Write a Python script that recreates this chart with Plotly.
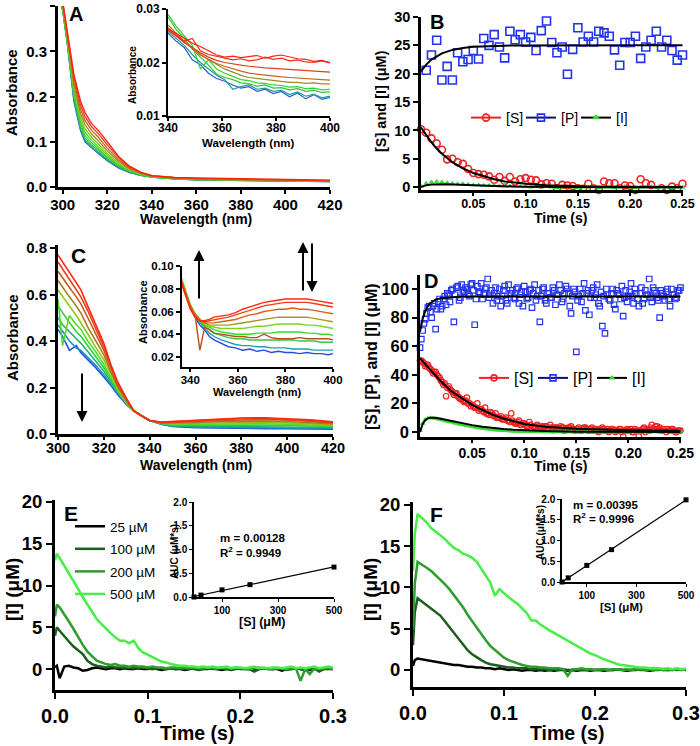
import numpy as np
import plotly.graph_objects as go

W, H = 700, 746
FONT = "Liberation Sans"

# ---------------- Panel A : spectra ----------------
A_wl = [296, 298, 300, 302, 305, 308, 310, 313, 316, 320, 325, 330, 335, 340, 350, 360, 380, 400, 420]
A_curves = [
    [.48, .44, .39, .32, .19, .125, .100, .086, .074, .058, .042, .032, .026, .022, .018, .016, .014, .013, .012],
    [.48, .44, .39, .32, .195, .128, .103, .088, .076, .060, .044, .033, .026, .022, .018, .016, .014, .013, .012],
    [.48, .44, .39, .322, .20, .133, .108, .092, .080, .063, .046, .034, .027, .022, .018, .016, .015, .014, .012],
    [.48, .44, .392, .325, .205, .14, .114, .097, .084, .066, .048, .035, .027, .022, .018, .017, .015, .014, .013],
    [.48, .44, .395, .328, .21, .147, .121, .103, .089, .070, .050, .036, .028, .023, .019, .017, .015, .014, .013],
    [.48, .445, .40, .332, .218, .155, .129, .110, .095, .074, .053, .038, .029, .023, .019, .017, .016, .015, .013],
    [.48, .445, .40, .336, .226, .163, .138, .117, .102, .080, .057, .040, .030, .024, .020, .018, .016, .015, .013],
    [.48, .45, .405, .34, .235, .172, .147, .125, .110, .086, .061, .042, .031, .024, .020, .018, .017, .016, .014],
    [.48, .45, .41, .345, .243, .181, .156, .133, .118, .093, .065, .044, .032, .025, .021, .019, .018, .016, .014],
    [.48, .45, .41, .35, .25, .19, .165, .14, .125, .10, .068, .046, .033, .025, .021, .020, .019, .017, .015],
]
A_colors = ['#2a5bd7', '#1e9ea0', '#35c43a', '#2fd62f', '#4fd81e', '#8cc21c', '#a08a28', '#c4661e', '#e8401a', '#ff2010']

Ai_wl = [340, 343, 346, 349, 352, 355, 358, 361, 364, 367, 370, 373, 376, 379, 382, 385, 388, 391, 394, 397, 400]
Ai_curves = [
    [.0255, .0240, .0228, .0205, .0196, .0180, .0170, .0165, .0158, .0152, .0155, .0146, .0150, .0142, .0146, .0136, .0143, .0132, .0140, .0131, .0135],
    [.0258, .0245, .0232, .0215, .0200, .0188, .0176, .0168, .0150, .0155, .0158, .0150, .0152, .0146, .0148, .0140, .0145, .0137, .0141, .0134, .0137],
    [.0285, .0262, .0245, .0225, .0210, .0195, .0178, .0172, .0168, .0162, .0160, .0156, .0158, .0152, .0153, .0149, .0151, .0146, .0148, .0144, .0145],
    [.0290, .0268, .0250, .0232, .0188, .0205, .0188, .0180, .0174, .0168, .0166, .0162, .0161, .0158, .0157, .0154, .0155, .0151, .0152, .0149, .0150],
    [.0270, .0255, .0240, .0228, .0215, .0205, .0196, .0188, .0182, .0176, .0172, .0170, .0168, .0166, .0165, .0163, .0163, .0161, .0162, .0160, .0160],
    [.0265, .0252, .0238, .0226, .0214, .0206, .0198, .0193, .0188, .0184, .0180, .0178, .0176, .0175, .0173, .0172, .0171, .0170, .0169, .0168, .0167],
    [.0262, .0250, .0237, .0228, .0218, .0210, .0204, .0200, .0197, .0195, .0193, .0191, .0190, .0189, .0188, .0187, .0186, .0185, .0184, .0183, .0182],
    [.0260, .0250, .0240, .0245, .0222, .0215, .0212, .0208, .0205, .0207, .0203, .0205, .0210, .0206, .0208, .0203, .0205, .0201, .0200, .0203, .0199],
    [.0263, .0255, .0246, .0236, .0230, .0222, .0214, .0210, .0212, .0209, .0211, .0213, .0208, .0212, .0214, .0210, .0207, .0206, .0202, .0204, .0200],
]
Ai_colors = ['#2a5bd7', '#1e9ea0', '#35c43a', '#2fd62f', '#a08a28', '#c4661e', '#e0401c', '#f02a14', '#ff2010']

# ---------------- Panel B : kinetics ----------------
B_t_P = np.linspace(0.005, 0.25, 50)
B_P = [20.6, 23.3, 25.9, 18.9, 21.3, 18.9, 23.7, 22.1, 22.5, 24.1,
       22.6, 26.2, 25.0, 26.9, 24.7, 22.8, 27.5, 26.0, 26.9, 25.6,
       26.4, 24.1, 27.6, 29.3, 25.5, 23.7, 24.7, 19.9, 24.3, 28.1,
       25.6, 26.6, 25.6, 27.5, 27.2, 26.6, 24.2, 21.5, 25.5, 25.5,
       26.6, 22.7, 24.7, 25.9, 27.5, 24.7, 25.9, 24.1, 22.4, 23.3]
B_t = np.linspace(0, 0.25, 51)
B_S = [10.2, 9.6, 8.6, 7.7, 6.6, 4.9, 5.0, 4.4, 4.1, 3.2,
       2.5, 2.3, 2.2, 1.9, 1.3, 1.8, 1.1, 1.8, 1.0, 1.4,
       1.6, 1.3, 1.2, 0.5, 0.7, 0.6, -0.2, 0.4, 0.3, 0.2,
       -0.2, -0.3, 0.6, -0.2, -0.5, 1.0, 0.7, 0.7, -0.2, 0.3,
       0.2, -0.5, 1.4, 0.7, 0.4, -0.8, -0.2, -0.5, 0.1, -0.2, 0.6]
B_I = [0.2, 0.7, 0.9, 1.0, 0.9, 0.8, 0.7, 0.6, 0.6, 0.5,
       0.4, 0.4, 0.3, 0.3, 0.3, 0.2, 0.2, 0.2, 0.1, 0.1,
       0.1, 0.0, 0.1, 0.0, 0.1, 0.0, -0.1, 0.0, 0.1, 0.0,
       -0.1, 0.0, 0.0, 0.1, -0.1, 0.0, 0.0, -0.1, 0.0, 0.1,
       0.0, -0.1, 0.0, 0.0, 0.1, -0.1, 0.0, 0.0, -0.1, 0.0, 0.0]
B_t_fit = [0, 0.005, 0.01, 0.015, 0.02, 0.03, 0.04, 0.05, 0.06, 0.07, 0.08, 0.09, 0.10, 0.12, 0.14, 0.16, 0.18, 0.20, 0.22, 0.25]
B_P_fit = [20.4, 21.6, 22.5, 23.1, 23.6, 24.2, 24.55, 24.75, 24.85, 24.92, 24.95, 24.97, 24.98, 25, 25, 25, 25, 25, 25, 25]
B_S_fit = [10.5, 9.1, 7.9, 6.8, 5.9, 4.4, 3.3, 2.5, 1.9, 1.4, 1.0, 0.8, 0.6, 0.34, 0.19, 0.1, 0.06, 0.03, 0.02, 0.01]
B_I_fit = [0.0, 0.35, 0.45, 0.5, 0.5, 0.45, 0.38, 0.3, 0.24, 0.19, 0.15, 0.11, 0.09, 0.05, 0.03, 0.02, 0.01, 0.0, 0.0, 0.0]

# ---------------- Panel C : spectra ----------------
C_wl = [300, 302, 305, 308, 310, 313, 316, 320, 323, 326, 330, 333, 336, 340, 345, 350, 360, 370, 380, 390, 400, 410, 420]
C_curves = [
    [.45, .42, .36, .38, .35, .32, .29, .245, .21, .17, .125, .10, .082, .058, .042, .032, .027, .025, .024, .023, .023, .022, .021],
    [.47, .44, .40, .37, .36, .33, .30, .255, .215, .175, .128, .10, .082, .058, .043, .034, .030, .028, .027, .027, .026, .025, .024],
    [.50, .47, .44, .41, .39, .355, .32, .27, .225, .18, .13, .10, .082, .058, .044, .036, .034, .033, .033, .032, .031, .030, .028],
    [.55, .52, .48, .44, .42, .38, .34, .285, .235, .185, .13, .10, .082, .058, .045, .039, .038, .038, .039, .039, .037, .035, .032],
    [.58, .38, .51, .47, .45, .40, .36, .30, .245, .19, .133, .10, .082, .058, .046, .042, .042, .043, .044, .044, .042, .039, .035],
    [.62, .59, .55, .51, .48, .43, .38, .32, .26, .20, .137, .10, .081, .058, .047, .045, .046, .048, .050, .050, .048, .044, .039],
    [.66, .63, .59, .55, .52, .46, .41, .34, .27, .205, .14, .10, .081, .058, .048, .048, .050, .053, .056, .056, .054, .049, .043],
    [.70, .67, .63, .59, .56, .50, .44, .36, .285, .21, .145, .10, .080, .058, .049, .050, .054, .058, .061, .062, .060, .054, .047],
    [.74, .71, .67, .62, .59, .53, .46, .375, .295, .22, .15, .10, .080, .058, .050, .052, .057, .063, .066, .067, .064, .058, .050],
    [.77, .74, .70, .65, .62, .55, .48, .39, .30, .225, .15, .10, .080, .058, .051, .054, .059, .066, .069, .070, .067, .061, .052],
]
C_colors = ['#2050e0', '#1f8fc8', '#22b07a', '#30d040', '#4ee020', '#92c21c', '#a67c22', '#c85a1e', '#ec3a18', '#ff2a10']

Ci_wl = [336, 338, 340, 342, 344, 346, 348, 350, 353, 356, 359, 362, 365, 368, 371, 374, 377, 380, 383, 386, 389, 392, 395, 398, 400]
Ci_curves = [
    [.088, .075, .063, .055, .048, .044, .038, .035, .032, .029, .028, .026, .027, .025, .026, .024, .025, .024, .024, .023, .024, .023, .023, .022, .023],
    [.089, .076, .064, .056, .050, .045, .041, .038, .035, .033, .031, .030, .030, .029, .029, .028, .028, .028, .027, .027, .027, .026, .026, .026, .026],
    [.090, .077, .065, .057, .051, .047, .044, .041, .039, .037, .036, .036, .035, .035, .035, .035, .035, .035, .035, .034, .034, .034, .033, .033, .033],
    [.091, .078, .066, .058, .052, .048, .046, .044, .042, .041, .040, .040, .040, .041, .041, .041, .042, .042, .042, .042, .041, .041, .040, .040, .039],
    [.090, .077, .066, .058, .053, .049, .047, .046, .045, .045, .045, .045, .046, .047, .047, .048, .049, .049, .049, .049, .048, .048, .047, .046, .045],
    [.089, .076, .065, .058, .053, .050, .048, .048, .048, .048, .049, .050, .051, .052, .053, .054, .055, .055, .055, .055, .055, .054, .053, .052, .051],
    [.088, .075, .064, .057, .026, .046, .044, .041, .040, .039, .038, .038, .037, .037, .040, .037, .036, .036, .036, .037, .036, .036, .036, .036, .035],
    [.088, .075, .064, .057, .052, .050, .050, .050, .051, .052, .053, .055, .057, .058, .060, .061, .062, .062, .063, .062, .062, .061, .060, .059, .058],
    [.087, .074, .063, .056, .052, .051, .052, .053, .054, .055, .057, .059, .061, .063, .065, .066, .067, .068, .068, .068, .068, .067, .066, .065, .064],
    [.086, .073, .062, .055, .052, .052, .053, .055, .056, .057, .059, .062, .064, .066, .068, .069, .070, .071, .071, .071, .071, .070, .069, .068, .067],
]
Ci_colors = ['#2050e0', '#1f9fb0', '#30c848', '#36dc2a', '#7ed41c', '#a89a24', '#b84a1e', '#d8601a', '#f03a18', '#ff2a10']

# ---------------- Panel D : kinetics ----------------
D_t = np.linspace(0, 0.25, 101)
D_t2 = np.linspace(0.00125, 0.24875, 100)
D_P = [59, 71, 79, 87, 84, 88, 72, 91, 86, 93,
       89, 96, 99, 77, 101, 92, 103, 98, 100, 95,
       104, 75, 102, 97, 93, 100, 107, 96, 90, 101,
       95, 88, 99, 92, 103, 97, 94, 100, 90, 98,
       102, 93, 99, 87, 103, 95, 77, 100, 92, 97,
       94, 101, 89, 96, 99, 93, 102, 97, 83, 100,
       56, 95, 91, 104, 97, 82, 99, 94, 103, 88,
       74, 69, 96, 92, 100, 86, 97, 93, 81, 99,
       95, 104, 90, 97, 88, 101, 93, 96, 107, 91,
       99, 94, 80, 97, 92, 100, 88, 96, 93, 99, 101]
D_P2 = [65, 76, 83, 88, 80, 90, 86, 93, 88, 95,
        97, 91, 100, 96, 102, 94, 99, 101, 96, 103,
        99, 93, 98, 104, 96, 101, 94, 99, 97, 92,
        100, 95, 102, 90, 97, 99, 93, 101, 96, 88,
        98, 94, 100, 97, 92, 99, 95, 101, 90, 97,
        94, 99, 96, 103, 91, 97, 100, 88, 95, 98,
        92, 100, 97, 85, 99, 94, 101, 96, 90, 98,
        95, 100, 93, 97, 89, 99, 96, 102, 94, 91,
        98, 95, 100, 93, 97, 90, 99, 96, 94, 101,
        97, 92, 99, 95, 98, 93, 100, 96, 94, 99]
D_S = [50, 49, 46, 47, 44, 41, 42, 39, 36, 33, 25, 32, 29, 26, 27, 24, 23, 21, 24, 20,
       19, 17, 20, 16, 15, 17, 13, 14, 12, 13, 10, 11, 9, 10, 8, 13, 7, 6, 8, 5,
       6, 4, 7, -5, 4, 5, 3, 4, 4, 3, 5, 3, 3, 2, 4, 3, 2, 3, 4, 2,
       2, 3, 1, 3, 2, 1, 3, 2, 1, 2, 3, 1, 2, 1, 2, 0, 1, 2, -3, 1,
       1, 2, 0, 1, -3, 1, 3, 2, 1, 5, 2, 4, 3, 1, -4, 2, 1, 2, 0, 1, 1]
D_S2 = [50, 48, 47, 45, 43, 42, 40, 38, 35, 34,
        31, 30, 28, 27, 25, 23, 22, 22, 20, 18,
        18, 17, 15, 16, 14, 13, 12, 13, 11, 10,
        10, 9, 9, 8, 7, 8, 6, 7, 5, 6,
        5, 4, 5, 4, 3, 4, 3, 3, 4, 2,
        3, 2, 3, 2, 3, 1, 2, 3, 2, 1,
        2, 1, 2, 3, 1, 2, 1, 2, 0, 1,
        2, 1, 0, 2, 1, 1, 2, 0, 1, 2,
        1, 0, 2, 1, 1, 2, 0, 1, 3, 2,
        4, 2, 1, 2, 0, 1, 2, 1, 0, 1]
D_I = [1.0, 6.0, 8.8, 9.6, 9.9, 9.7, 9.3, 8.9, 8.5, 8.1,
       7.6, 7.2, 6.8, 6.3, 5.9, 5.5, 5.1, 4.7, 4.3, 4.0,
       3.6, 3.3, 3.0, 2.7, 2.4, 2.2, 1.9, 1.7, 1.5, 1.3,
       1.2, 1.0, 0.9, 0.8, 0.7, 0.6, 0.5, 0.4, 0.4, 0.3,
       0.3, 0.2, 0.2, 0.2, 0.1, 0.1, 0.1, 0.1, 0.0, 0.1,
       0.0, -0.1, 0.0, 0.1, 0.0, -0.1, 0.0, 0.0, 0.1, -0.1,
       0.0, 0.0, -0.1, 0.1, 0.0, 0.0, -0.1, 0.0, 0.1, 0.0,
       -0.2, 0.0, 0.1, 0.0, -0.1, 0.0, 0.0, 0.1, 0.0, -0.1,
       0.0, 0.1, 0.0, -0.1, 0.0, 0.0, 0.1, -0.1, 0.0, 0.0,
       0.1, 0.0, -0.1, 0.0, 0.0, 0.1, 0.0, -0.1, 0.0, 0.0, 0.0]
D_t_fit = [0, 0.0025, 0.005, 0.0075, 0.01, 0.0125, 0.015, 0.02, 0.03, 0.04, 0.05, 0.06, 0.07, 0.08, 0.09, 0.10, 0.12, 0.15, 0.2, 0.25]
D_P_fit = [70, 79, 84.5, 88, 90.3, 91.7, 92.6, 93.6, 94.4, 94.7, 94.8, 94.8, 94.8, 94.8, 94.8, 94.8, 94.8, 94.8, 94.8, 94.8]
D_S_fit = [51.5, 49.5, 47.5, 45.5, 43.5, 41.5, 39.5, 35.5, 28.5, 23.5, 19.0, 15.4, 12.0, 9.4, 7.3, 5.6, 3.7, 2.2, 1.2, 0.8]
D_I_fit = [0, 5.5, 8.3, 9.5, 10.0, 10.1, 9.9, 9.2, 7.6, 6.0, 4.8, 3.7, 2.8, 2.1, 1.6, 1.2, 0.65, 0.25, 0.06, 0.01]

# ---------------- Panels E / F : [I] traces ----------------
EF_t = np.concatenate([[0.0, 0.002], np.linspace(0.005, 0.3, 60)])
E_25 = [0.2, 0.4, -1.1, 0.3, 0.4, 0.2, 0.1, -0.2, -0.1, 0.1,
        0.2, 0.1, 0.0, 0.1, 0.1, 0.0, 0.1, 0.0, 0.0, 0.1,
        0.0, 0.0, 0.1, 0.0, -0.1, 0.0, 0.1, 0.0, 0.0, -0.1,
        0.0, 0.1, 0.0, 0.0, 0.0, 0.1, 0.0, -0.1, 0.0, 0.0,
        0.1, 0.0, 0.0, 0.0, -0.1, 0.0, 0.1, 0.0, 0.0, 0.0,
        -0.2, 0.0, 0.0, 0.1, 0.0, 0.0, -0.1, 0.0, 0.1, 0.0, 0.0, 0.0]
E_100 = [4.0, 5.0, 4.6, 3.9, 3.3, 2.7, 2.3, 1.8, 1.0, 0.6,
         0.4, 0.3, 0.2, 0.3, 0.2, 0.2, 0.1, 0.2, 0.1, 0.1,
         0.2, 0.1, 0.0, 0.1, 0.1, 0.0, 0.1, 0.0, 0.1, 0.0,
         0.1, 0.0, -0.1, 0.0, 0.1, 0.0, 0.0, 0.1, 0.0, -0.1,
         0.0, 0.1, 0.0, 0.0, -0.3, 0.0, 0.1, 0.0, 0.0, 0.1,
         0.0, -0.1, 0.0, 0.1, 0.0, -0.2, 0.0, 0.1, -0.3, 0.0, 0.1, 0.0]
E_200 = [6.3, 7.7, 7.4, 6.6, 5.7, 4.8, 3.8, 2.9, 2.1, 1.5,
         1.0, 0.8, 0.6, 0.5, 0.6, 0.4, 0.4, 0.3, 0.4, 0.3,
         0.3, 0.2, 0.3, 0.2, 0.2, 0.1, 0.2, 0.2, 0.1, 0.2,
         0.1, 0.2, 0.1, 0.1, 0.2, 0.1, 0.1, 0.2, 0.1, 0.1,
         0.2, 0.1, 0.1, 0.0, 0.1, 0.2, 0.1, 0.1, 0.0, 0.1,
         0.1, 0.0, 0.1, 0.1, -1.4, 0.0, -0.6, 0.1, 0.0, 0.1, 0.1, 0.0]
E_500 = [13.0, 13.8, 13.3, 12.4, 11.5, 10.6, 9.6, 8.6, 7.7, 6.8,
         6.0, 5.4, 4.8, 4.3, 3.8, 3.4, 3.4, 3.1, 3.4, 2.5,
         2.0, 1.7, 1.4, 1.2, 0.9, 0.8, 0.6, 0.5, 0.4, 0.4,
         0.3, 0.3, 0.2, 0.3, 0.2, 0.3, 0.2, 0.2, 0.3, 0.1,
         0.2, 0.2, 0.1, 0.2, 0.3, 0.1, 0.2, 0.1, 0.2, 0.2,
         0.1, 0.2, 0.3, 0.1, 0.2, 0.1, 0.2, 0.3, 0.1, 0.2, 0.3, 0.2]
F_25 = [0.5, 1.2, 1.4, 1.3, 1.2, 1.1, 1.0, 0.9, 0.8, 0.7,
        0.6, 0.6, 0.5, 0.4, 0.4, 0.3, 0.3, 0.2, 0.2, 0.1,
        0.2, 0.1, 0.0, 0.1, 0.0, -0.1, 0.0, 0.0, -0.1, 0.0,
        -0.1, 0.0, -0.1, 0.0, 0.0, -0.1, 0.0, -0.1, 0.0, 0.0,
        -0.1, 0.0, 0.0, -0.1, 0.0, 0.0, 0.1, 0.0, -0.1, 0.0,
        0.0, 0.1, 0.0, -0.1, 0.0, 0.1, 0.0, 0.0, 0.1, 0.0, 0.1, 0.0]
F_100 = [3.0, 7.0, 8.7, 8.3, 7.9, 7.5, 7.1, 6.6, 5.9, 5.2,
         4.5, 3.7, 3.0, 2.4, 1.9, 1.5, 1.2, 0.9, 0.7, 0.6,
         0.5, 0.4, 0.3, 0.3, 0.2, 0.2, 0.2, 0.1, 0.1, 0.1,
         0.1, 0.0, 0.1, 0.0, 0.1, 0.0, 0.0, 0.1, 0.0, 0.0,
         0.1, 0.0, 0.0, 0.1, 0.0, 0.0, 0.1, 0.0, 0.0, 0.0,
         0.1, 0.0, 0.0, 0.1, 0.0, 0.0, 0.1, 0.0, 0.0, 0.1, 0.0, 0.1]
F_200 = [5.0, 10.5, 13.1, 12.8, 12.4, 12.0, 11.5, 11.0, 10.4, 9.8,
         9.1, 8.4, 7.6, 6.7, 5.9, 5.2, 4.3, 3.6, 2.9, 2.4,
         1.9, 1.5, 1.2, 1.0, 0.8, 0.6, 0.5, 0.4, 0.4, 0.3,
         0.3, 0.2, 0.2, 0.2, 0.1, -0.7, 0.1, 0.1, 0.2, 0.1,
         0.1, 0.0, 0.1, 0.1, 0.0, 0.1, 0.1, 0.0, 0.1, 0.0,
         0.1, 0.1, 0.0, 0.1, 0.0, 0.1, 0.0, 0.1, 0.0, 0.1, 0.0, 0.1]
F_500 = [12.0, 16.5, 18.9, 18.4, 17.9, 17.2, 16.8, 16.4, 15.9, 15.3,
         14.8, 14.5, 14.1, 13.9, 13.6, 13.1, 12.3, 11.4, 10.6, 9.0,
         9.8, 9.3, 8.8, 8.4, 8.0, 7.4, 6.9, 6.0, 6.0, 5.5,
         5.1, 4.8, 4.5, 4.2, 3.8, 3.5, 3.2, 2.9, 2.6, 2.3,
         2.0, 1.8, 1.5, 1.3, 1.1, 0.9, 0.7, 0.6, 0.5, 0.4,
         0.35, 0.3, 0.3, 0.2, 0.25, 0.2, 0.15, 0.2, 0.1, 0.2, 0.1, 0.15]
EF_names = ['25 \u00b5M', '100 \u00b5M', '200 \u00b5M', '500 \u00b5M']
EF_colors = ['#000000', '#1d5e1d', '#2e9e2e', '#46ee46']

S_conc = [0, 25, 100, 200, 500]
AUC_E = [0.0, 0.04, 0.15, 0.26, 0.63]
AUC_F = [0.0, 0.10, 0.40, 0.78, 1.98]

RED, BLUE, GREEN = '#ee2222', '#2233ee', '#33dd33'

# ---------------- helpers ----------------
def xdom(a, b):
    return [a / W, b / W]

def ydom(bottom, top):
    return [1 - bottom / H, 1 - top / H]

def axis(dom, rng, anchor, size, lw=2.5, tickvals=None, ticktext=None, ticklen=5, tw=2, standoff=0):
    d = dict(domain=dom, range=rng, anchor=anchor, showline=True, linecolor='black',
             linewidth=lw, ticks='outside', ticklen=ticklen, tickwidth=tw, tickcolor='black',
             tickfont=dict(family=FONT, size=size, color='black', weight='bold'),
             showgrid=False, zeroline=False, fixedrange=True, automargin=False,
             ticklabelstandoff=standoff)
    if tickvals is not None:
        d['tickvals'] = tickvals
    if ticktext is not None:
        d['ticktext'] = ticktext
    return d

def txt(s, x, y, size, angle=0, bold=True, xanchor='center'):
    return dict(text=s, x=x / W, y=1 - y / H, xref='paper', yref='paper', showarrow=False,
                font=dict(family=FONT, size=size, color='black', weight='bold' if bold else 'normal'),
                textangle=angle, xanchor=xanchor, yanchor='middle')

def arrow(x, y_head, y_tail):
    return dict(x=x / W, y=1 - y_head / H, xref='paper', yref='paper', ax=0, ay=y_tail - y_head,
                axref='pixel', ayref='pixel', showarrow=True, arrowhead=2, arrowsize=1.1,
                arrowwidth=2, arrowcolor='black', text='')

fig = go.Figure()

def line(x, y, ax_id, color, width=1, **kw):
    fig.add_trace(go.Scatter(x=x, y=y, mode='lines', line=dict(color=color, width=width),
                             xaxis='x' + ax_id, yaxis='y' + ax_id, showlegend=kw.pop('showlegend', False), **kw))

# A main + inset
for c, col in zip(A_curves, A_colors):
    line(A_wl, c, '', col, 1.3)
for c, col in zip(Ai_curves, Ai_colors):
    line(Ai_wl, c, '2', col, 1.2)

# B
fig.add_trace(go.Scatter(x=B_t_P, y=B_P, mode='markers', xaxis='x3', yaxis='y3', showlegend=False, cliponaxis=False,
                         marker=dict(symbol='square-open', color=BLUE, size=8, line=dict(width=1.6))))
fig.add_trace(go.Scatter(x=B_t, y=B_S, mode='markers', xaxis='x3', yaxis='y3', showlegend=False, cliponaxis=False,
                         marker=dict(symbol='circle-open', color=RED, size=7, line=dict(width=1.6))))
fig.add_trace(go.Scatter(x=B_t, y=B_I, mode='markers', xaxis='x3', yaxis='y3', showlegend=False, cliponaxis=False,
                         marker=dict(symbol='triangle-up', color=GREEN, size=5)))
for yf in (B_P_fit, B_S_fit, B_I_fit):
    line(B_t_fit, yf, '3', 'black', 2)

# C main + inset
for c, col in zip(C_curves, C_colors):
    line(C_wl, c, '4', col, 1.6)
for c, col in zip(Ci_curves, Ci_colors):
    line(Ci_wl, c, '5', col, 1.4)

# D
fig.add_trace(go.Scatter(x=np.concatenate([D_t, D_t2]), y=D_P + D_P2, mode='markers', xaxis='x6', yaxis='y6',
                         showlegend=False, cliponaxis=False,
                         marker=dict(symbol='square-open', color=BLUE, size=5.5, line=dict(width=1.2))))
fig.add_trace(go.Scatter(x=np.concatenate([D_t, D_t2]), y=D_S + D_S2, mode='markers', xaxis='x6', yaxis='y6',
                         showlegend=False, cliponaxis=False,
                         marker=dict(symbol='circle-open', color=RED, size=5.5, line=dict(width=1.2))))
fig.add_trace(go.Scatter(x=D_t, y=D_I, mode='markers', xaxis='x6', yaxis='y6', showlegend=False, cliponaxis=False,
                         marker=dict(symbol='triangle-up', color=GREEN, size=5)))
for yf in (D_P_fit, D_S_fit, D_I_fit):
    line(D_t_fit, yf, '6', 'black', 2)

# legend entries for B and D
for lg, ax_id, sz in (('legend', '3', 7), ('legend2', '6', 6)):
    fig.add_trace(go.Scatter(x=[None], y=[None], mode='lines+markers', name='[S]', legend=lg,
                             xaxis='x' + ax_id, yaxis='y' + ax_id,
                             line=dict(color=RED, width=2),
                             marker=dict(symbol='circle-open', color=RED, size=sz, line=dict(width=1.6))))
    fig.add_trace(go.Scatter(x=[None], y=[None], mode='lines+markers', name='[P]', legend=lg,
                             xaxis='x' + ax_id, yaxis='y' + ax_id,
                             line=dict(color='#101070', width=2),
                             marker=dict(symbol='square-open', color=BLUE, size=sz, line=dict(width=1.6))))
    fig.add_trace(go.Scatter(x=[None], y=[None], mode='lines+markers', name='[I]', legend=lg,
                             xaxis='x' + ax_id, yaxis='y' + ax_id,
                             line=dict(color='black', width=2),
                             marker=dict(symbol='triangle-up', color=GREEN, size=sz)))

# E and F
for ys, nm, col in zip((E_25, E_100, E_200, E_500), EF_names, EF_colors):
    fig.add_trace(go.Scatter(x=EF_t, y=ys, mode='lines', name=nm, legend='legend3', legendgroup=nm,
                             xaxis='x7', yaxis='y7', line=dict(color=col, width=2.5)))
for ys, col in zip((F_25, F_100, F_200, F_500), EF_colors):
    line(EF_t, ys, '9', col, 2.5)

# insets E/F: AUC vs [S]
for ax_id, auc in (('8', AUC_E), ('10', AUC_F)):
    m, b = np.polyfit(S_conc, auc, 1)
    line([0, 500], [b, m * 500 + b], ax_id, 'black', 1.2)
    fig.add_trace(go.Scatter(x=S_conc, y=auc, mode='markers', xaxis='x' + ax_id, yaxis='y' + ax_id,
                             showlegend=False, cliponaxis=False,
                             marker=dict(symbol='square', color='black', size=5)))

# ---------------- layout ----------------
wl_ticks = [300, 320, 340, 360, 380, 400, 420]
t_ticks = [0.05, 0.10, 0.15, 0.20, 0.25]
t_text = ['0.05', '0.10', '0.15', '0.20', '0.25']
ef_ticks = [0.0, 0.1, 0.2, 0.3]
ef_text = ['0.0', '0.1', '0.2', '0.3']

layout = dict(
    width=W, height=H, autosize=False, margin=dict(l=0, r=0, t=0, b=0, autoexpand=False),
    paper_bgcolor='white', plot_bgcolor='rgba(0,0,0,0)', hovermode=False,
    # A
    xaxis=axis(xdom(58, 330), [297.9, 420], 'y', 15, 3, wl_ticks, ticklen=4, standoff=-2),
    yaxis=axis(ydom(187, 6), [0, 0.4], 'x', 15, 3, [0, 0.1, 0.2, 0.3, 0.4], ['0.0', '0.1', '0.2', '0.3', '0.4']),
    xaxis2=axis(xdom(168, 330), [340, 400], 'y2', 12, 2, [340, 360, 380, 400], ticklen=3, tw=1.5, standoff=-3),
    yaxis2=axis(ydom(116, 9), [0.01, 0.03], 'x2', 12, 2, [0.01, 0.02, 0.03], ['0.01', '0.02', '0.03'], ticklen=4, tw=1.5),
    # B
    xaxis3=axis(xdom(421, 683), [0, 0.2505], 'y3', 12.5, 2.5, t_ticks, t_text, ticklen=3, standoff=-3),
    yaxis3=axis(ydom(190, 17), [-0.5, 30], 'x3', 14.5, 2.5, [0, 5, 10, 15, 20, 25, 30]),
    # C
    xaxis4=axis(xdom(58, 333), [300, 420], 'y4', 14.5, 3, wl_ticks, ticklen=3, standoff=-4),
    yaxis4=axis(ydom(434, 245), [0, 0.813], 'x4', 15, 3, [0, 0.2, 0.4, 0.6, 0.8], ['0.0', '0.2', '0.4', '0.6', '0.8']),
    xaxis5=axis(xdom(182, 333), [336.5, 400], 'y5', 11.5, 2, [340, 360, 380, 400], ticklen=3, tw=1.5, standoff=-2),
    yaxis5=axis(ydom(367, 266), [0.0112, 0.10], 'x5', 11.5, 2, [0.02, 0.04, 0.06, 0.08, 0.10],
                ['0.02', '0.04', '0.06', '0.08', '0.10'], ticklen=4, tw=1.5),
    # D
    xaxis6=axis(xdom(420, 681), [0, 0.2505], 'y6', 14, 2.5, t_ticks, t_text, ticklen=3, standoff=-2),
    yaxis6=axis(ydom(437, 275), [-3.5, 109.8], 'x6', 16.5, 2.5, [0, 20, 40, 60, 80, 100]),
    # E
    xaxis7=axis(xdom(55, 333), [0, 0.3], 'y7', 20, 3, ef_ticks, ef_text, ticklen=6),
    yaxis7=axis(ydom(690, 500), [-2.5, 20.24], 'x7', 18.5, 3, [0, 5, 10, 15, 20], ticklen=6),
    xaxis8=axis(xdom(194, 334), [0, 500], 'y8', 10, 1.5, [100, 300, 500], ticklen=3, tw=1.2),
    yaxis8=axis(ydom(597, 502), [0, 2.0], 'x8', 10, 1.5, [0, 0.5, 1.0, 1.5, 2.0], ['0.0', '0.5', '1.0', '1.5', '2.0'], ticklen=3, tw=1.2),
    # F
    xaxis9=axis(xdom(413, 686), [0, 0.3], 'y9', 20, 3, ef_ticks, ef_text, ticklen=6),
    yaxis9=axis(ydom(687, 502), [-2.06, 20.36], 'x9', 18.5, 3, [0, 5, 10, 15, 20], ticklen=6),
    xaxis10=axis(xdom(562, 686), [0, 500], 'y10', 10, 1.5, [100, 300, 500], ticklen=3, tw=1.2),
    yaxis10=axis(ydom(582, 499), [0, 2.0], 'x10', 10, 1.5, [0, 0.5, 1.0, 1.5, 2.0], ['0.0', '0.5', '1.0', '1.5', '2.0'], ticklen=3, tw=1.2),
    legend=dict(x=466 / W, y=1 - 102 / H, xanchor='left', yanchor='top', orientation='h',
                font=dict(family=FONT, size=14, color='black'), bgcolor='rgba(0,0,0,0)',
                entrywidth=10, entrywidthmode='pixels', itemclick=False),
    legend2=dict(x=474 / W, y=1 - 361 / H, xanchor='left', yanchor='top', orientation='h',
                 font=dict(family=FONT, size=16, color='black'), bgcolor='rgba(0,0,0,0)',
                 entrywidth=14, entrywidthmode='pixels', itemclick=False),
    legend3=dict(x=70 / W, y=1 - 511 / H, xanchor='left', yanchor='top', orientation='v',
                 font=dict(family=FONT, size=13.5, color='black'), bgcolor='rgba(0,0,0,0)',
                 tracegroupgap=2, itemclick=False),
)

ann = [
    txt('A', 76, 14, 20), txt('B', 437, 22, 20), txt('C', 78, 255, 21),
    txt('D', 431, 281, 20), txt('E', 71, 513, 21), txt('F', 436, 514, 21),
    # A
    txt('Absorbance', 12, 93, 15, -90), txt('Wavelength (nm)', 196, 219, 14),
    txt('Absorbance', 133, 75, 10, -90), txt('Wavelength (nm)', 248, 143, 11.5),
    # B
    txt('[S] and [I] (\u03bcM)', 381, 101, 14.5, -90), txt('Time (s)', 560, 218, 14),
    # C
    txt('Absorbance', 12, 338, 15, -90), txt('Wavelength (nm)', 196, 465, 14),
    txt('Absorbance', 143, 312, 11, -90), txt('Wavelength (nm)', 257, 392, 11),
    # D
    txt('[S], [P], and [I] (\u03bcM)', 371, 357, 16, -90), txt('Time (s)', 560, 466, 14),
    # E
    txt('[I] (\u03bcM)', 12, 590, 19, -90), txt('Time (s)', 197, 733, 19.5),
    txt('AUC (\u03bcM*s)', 174, 552, 10, -90), txt('[S] (\u03bcM)', 262, 622, 12.5),
    txt('m = 0.00128', 218, 538, 11.5, xanchor='left'), txt('R<sup>2</sup> = 0.9949', 218, 552, 11.5, xanchor='left'),
    # F
    txt('[I] (\u03bcM)', 370, 590, 19, -90), txt('Time (s)', 567, 733, 19.5),
    txt('AUC (\u03bcM*s)', 540, 533, 10, -90), txt('[S] (\u03bcM)', 621, 607, 11.5),
    txt('m = 0.00395', 571, 505, 11.5, xanchor='left'), txt('R<sup>2</sup> = 0.9996', 571, 518, 11.5, xanchor='left'),
    # arrows in C
    arrow(82, 422, 372), arrow(199, 250, 300), arrow(303, 242, 292), arrow(312, 292, 242),
]
layout['annotations'] = ann
fig.update_layout(**layout)
fig.write_html("out.html", config={'displayModeBar': False},
               post_script="document.body.style.margin='0';document.body.style.overflow='hidden';")
